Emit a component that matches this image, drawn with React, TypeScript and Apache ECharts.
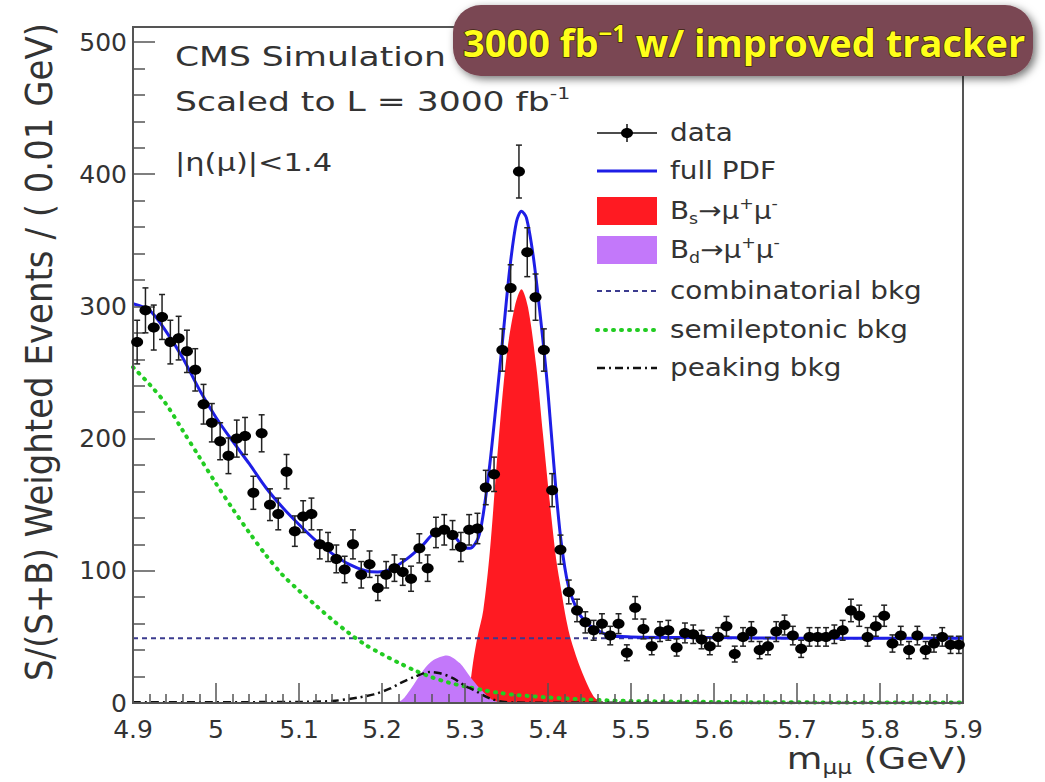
import React, { useEffect, useRef } from "react";
import * as echarts from "echarts";

// Binning of the data histogram (GeV)
const BIN_START = 4.9;
const BIN_WIDTH = 0.01;

// Weighted events per bin (bins 4.90-4.91 ... 5.89-5.90)
const dataCounts = [
  273, 297, 284, 292, 273, 276, 266, 252, 226, 212,
  198, 187, 200, 202, 159, 204, 150, 143, 175, 130,
  141, 143, 120, 118, 109, 101, 120, 97, 105, 87,
  97, 102, 99, 94, 117, 102, 129, 131, 127, 118,
  131, 132, 163, 173, 267, 314, 402, 341, 307, 267,
  161, 116, 84, 70, 61, 55, 60, 51, 60, 38,
  72, 56, 43, 54, 55, 42, 53, 52, 48, 43,
  50, 58, 37, 50, 54, 40, 43, 54, 59, 51,
  41, 50, 50, 50, 52, 55, 70, 66, 50, 58,
  66, 45, 51, 40, 51, 40, 45, 50, 44, 44,
];

const dataErrors = [
  16.5, 17, 17, 17, 16.5, 16.5, 16, 16, 15, 14.5,
  14, 13.5, 14, 14, 12.5, 14, 12, 12, 13, 11.5,
  12, 12, 11, 11, 10.5, 10, 11, 10, 10, 9.5,
  10, 10, 10, 9.5, 11, 10, 11.5, 11.5, 11, 11,
  11.5, 11.5, 13, 13, 16, 17.5, 20, 18.5, 17.5, 16,
  12.5, 11, 9, 8.5, 8, 7.5, 7.5, 7, 7.5, 6,
  8.5, 7.5, 6.5, 7.5, 7.5, 6.5, 7.5, 7, 7, 6.5,
  7, 7.5, 6, 7, 7.5, 6.5, 6.5, 7.5, 7.5, 7,
  6.5, 7, 7, 7, 7, 7.5, 8.5, 8, 7, 7.5,
  8, 6.5, 7, 6.5, 7, 6.5, 6.5, 7, 6.5, 6.5,
];

// Fit components as [mass, value]
const fullPdf = [
  [4.9, 302], [4.92, 297], [4.94, 281], [4.96, 261], [4.98, 237], [5.0, 216],
  [5.02, 198], [5.04, 181], [5.06, 163], [5.08, 148], [5.1, 135], [5.12, 123],
  [5.14, 113], [5.16, 105], [5.18, 100], [5.195, 99], [5.21, 101], [5.23, 109],
  [5.25, 120], [5.26, 127], [5.272, 131], [5.286, 127], [5.298, 118], [5.306, 117],
  [5.316, 125], [5.322, 143], [5.33, 181], [5.338, 229], [5.346, 279], [5.354, 329],
  [5.362, 364], [5.368, 372], [5.374, 367], [5.382, 339], [5.39, 297], [5.398, 249],
  [5.404, 204], [5.41, 158], [5.416, 121], [5.424, 90], [5.434, 72], [5.444, 62],
  [5.454, 57], [5.474, 51], [5.5, 50], [5.6, 49.5], [5.7, 49], [5.8, 49], [5.9, 49],
];

const bsSignal = [
  [5.29, 0], [5.3, 1], [5.305, 10], [5.31, 32], [5.315, 50], [5.322, 70],
  [5.33, 115], [5.34, 195], [5.35, 262], [5.36, 300], [5.368, 313], [5.376, 299],
  [5.386, 254], [5.394, 203], [5.402, 153], [5.41, 108], [5.416, 85], [5.422, 63],
  [5.428, 47], [5.44, 25], [5.455, 5], [5.465, 1], [5.475, 0],
];

const bdSignal = [
  [5.2, 0], [5.222, 1.5], [5.234, 10], [5.25, 25], [5.262, 32.5], [5.278, 36],
  [5.294, 30], [5.306, 20], [5.318, 11], [5.334, 2], [5.35, 0],
];

const combinatorialBkg = [
  [4.9, 49], [5.9, 49],
];

const semileptonicBkg = [
  [4.9, 254], [4.92, 241], [4.94, 226], [4.96, 206], [4.98, 186], [5.0, 166],
  [5.02, 147], [5.04, 129], [5.06, 112], [5.08, 97], [5.1, 85], [5.12, 74],
  [5.14, 63], [5.16, 53], [5.18, 44], [5.2, 37], [5.22, 30.5], [5.24, 24.5],
  [5.26, 19.5], [5.28, 15.5], [5.3, 12.5], [5.32, 10], [5.34, 7.8], [5.36, 6.2],
  [5.4, 4.2], [5.45, 2.5], [5.5, 1.5], [5.6, 0.8], [5.7, 0.5], [5.9, 0.3],
];

const peakingBkg = [
  [4.9, 0.5], [5.1, 0.8], [5.14, 1.5], [5.17, 4], [5.19, 6.5], [5.21, 11],
  [5.222, 15], [5.24, 20], [5.258, 23.5], [5.27, 22.5], [5.286, 18.6], [5.3, 13],
  [5.31, 10], [5.33, 3.5], [5.345, 1], [5.36, 0.3], [5.9, 0],
];

const X_MIN = 4.9;
const X_MAX = 5.9;
const X_STEP = 0.1;
const Y_MIN = 0;
const Y_MAX = 500;
const Y_STEP = 100;

const legendLabels = [
  "data",
  "full PDF",
  "Bs→μ+μ-",
  "Bd→μ+μ-",
  "combinatorial bkg",
  "semileptonic bkg",
  "peaking bkg",
];

const FONT = "DejaVu Sans";
const TXT = "#333";
const AX = "#555";
const BLUE = "#1e1ee6";
const RED = "#ff1a22";
const PURPLE = "#c378fa";
const GREEN = "#22cc22";
const NAVY = "#3b3b8f";

export default function App() {
  const ref = useRef<HTMLDivElement>(null);

  useEffect(() => {
    document.body.style.margin = "0";
    const chart = echarts.init(ref.current as HTMLDivElement, null, { renderer: "svg" });

    const points = dataCounts.map((v, i) => [
      +(BIN_START + BIN_WIDTH * (i + 0.5)).toFixed(3),
      v,
      dataErrors[i],
    ]);

    const legX = 597;
    const legW = 60;
    const legTextX = 670;
    const rowY = [133, 171, 211, 250, 291, 330, 368];
    const legTextStyle = { fontFamily: FONT, fontSize: 24, fill: TXT };
    const legText = (i: number, extra: any = {}) => ({
      type: "text",
      x: legTextX,
      y: rowY[i],
      scaleX: 1.16,
      style: {
        text: legendLabels[i],
        x: 0,
        y: 0,
        align: "left",
        verticalAlign: "middle",
        ...legTextStyle,
        ...extra,
      },
      z: 20,
    });
    const richDecay = (sub: string) => ({
      text: `{t|B}{sub|${sub}}{t|→μ}{sup|+}{t|μ}{sup|-}`,
      rich: {
        t: { fontFamily: FONT, fontSize: 24, fill: TXT, lineHeight: 30 },
        sub: { fontFamily: FONT, fontSize: 15, fill: TXT, lineHeight: 14, verticalAlign: "bottom" },
        sup: { fontFamily: FONT, fontSize: 15, fill: TXT, lineHeight: 16, verticalAlign: "top" },
      },
    });

    const graphic: any[] = [
      // plot frame
      {
        type: "rect",
        shape: { x: 133, y: 27, width: 830, height: 676 },
        style: { fill: "none", stroke: AX, lineWidth: 2 },
        z: 1,
        silent: true,
      },
      // annotations
      {
        type: "text",
        x: 175,
        y: 56,
        scaleX: 1.28,
        style: { text: "CMS Simulation", x: 0, y: 0, align: "left", verticalAlign: "middle", fontFamily: FONT, fontSize: 27, fill: TXT },
        z: 20,
      },
      {
        type: "text",
        x: 175,
        y: 101,
        scaleX: 1.28,
        style: {
          text: "{t|Scaled to L = 3000 fb}{s|-1}",
          x: 0,
          y: 0,
          align: "left",
          verticalAlign: "middle",
          rich: {
            t: { fontFamily: FONT, fontSize: 27, fill: TXT, lineHeight: 32 },
            s: { fontFamily: FONT, fontSize: 16, fill: TXT, lineHeight: 16, verticalAlign: "top" },
          },
        },
        z: 20,
      },
      {
        type: "text",
        x: 175,
        y: 162,
        scaleX: 1.22,
        style: { text: "|η(μ)|<1.4", x: 0, y: 0, align: "left", verticalAlign: "middle", fontFamily: FONT, fontSize: 25, fill: TXT },
        z: 20,
      },
      // legend symbols
      { type: "line", shape: { x1: legX, y1: rowY[0], x2: legX + legW, y2: rowY[0] }, style: { stroke: "#111", lineWidth: 1.5 }, z: 20 },
      { type: "line", shape: { x1: legX + legW / 2, y1: rowY[0] - 9, x2: legX + legW / 2, y2: rowY[0] + 9 }, style: { stroke: "#111", lineWidth: 1.5 }, z: 20 },
      { type: "ellipse", shape: { cx: legX + legW / 2, cy: rowY[0], rx: 6, ry: 5 }, style: { fill: "#000" }, z: 21 },
      { type: "line", shape: { x1: legX, y1: rowY[1], x2: legX + legW, y2: rowY[1] }, style: { stroke: BLUE, lineWidth: 3 }, z: 20 },
      { type: "rect", shape: { x: legX, y: rowY[2] - 14, width: legW, height: 28 }, style: { fill: RED }, z: 20 },
      { type: "rect", shape: { x: legX, y: rowY[3] - 14, width: legW, height: 28 }, style: { fill: PURPLE }, z: 20 },
      { type: "line", shape: { x1: legX, y1: rowY[4], x2: legX + legW, y2: rowY[4] }, style: { stroke: NAVY, lineWidth: 2, lineDash: [5, 4] }, z: 20 },
      { type: "line", shape: { x1: legX, y1: rowY[5], x2: legX + legW, y2: rowY[5] }, style: { stroke: GREEN, lineWidth: 4, lineDash: [1, 7], lineCap: "round" }, z: 20 },
      { type: "line", shape: { x1: legX, y1: rowY[6], x2: legX + legW, y2: rowY[6] }, style: { stroke: "#111", lineWidth: 2.5, lineDash: [8, 4, 2, 4] }, z: 20 },
      // legend texts
      legText(0),
      legText(1),
      {
        type: "text",
        x: legTextX,
        y: rowY[2],
        scaleX: 1.16,
        style: { ...richDecay("s"), x: 0, y: 0, align: "left", verticalAlign: "middle" },
        z: 20,
      },
      {
        type: "text",
        x: legTextX,
        y: rowY[3],
        scaleX: 1.16,
        style: { ...richDecay("d"), x: 0, y: 0, align: "left", verticalAlign: "middle" },
        z: 20,
      },
      legText(4),
      legText(5),
      legText(6),
      // axis titles
      {
        type: "text",
        x: 39,
        y: 352,
        rotation: Math.PI / 2,
        scaleY: 1.1,
        style: {
          text: "S/(S+B) Weighted Events / ( 0.01 GeV)",
          x: 0,
          y: 0,
          align: "center",
          verticalAlign: "middle",
          fontFamily: FONT,
          fontSize: 34,
          fill: TXT,
        },
        z: 20,
      },
      {
        type: "text",
        x: 968,
        y: 759,
        scaleX: 1.22,
        style: {
          text: "{t|m}{sub|μμ}{t| (GeV)}",
          x: 0,
          y: 0,
          align: "right",
          verticalAlign: "middle",
          rich: {
            t: { fontFamily: FONT, fontSize: 30, fill: TXT, lineHeight: 36 },
            sub: { fontFamily: FONT, fontSize: 19, fill: TXT, lineHeight: 18, verticalAlign: "bottom" },
          },
        },
        z: 20,
      },
      // badge
      {
        type: "rect",
        shape: { x: 453, y: 5, width: 580, height: 71, r: 28 },
        style: {
          fill: "#7a4652",
          shadowBlur: 8,
          shadowColor: "rgba(0,0,0,0.55)",
          shadowOffsetX: 3,
          shadowOffsetY: 3,
        },
        z: 30,
      },
      {
        type: "text",
        x: 463,
        y: 42,
        style: {
          text: "{a|3000 fb}{s|−1}{a| w/ improved tracker}",
          x: 0,
          y: 0,
          align: "left",
          verticalAlign: "middle",
          stroke: "rgba(50,30,0,0.85)",
          lineWidth: 1.5,
          rich: {
            a: { fontFamily: "Open Sans", fontWeight: "bold", fontSize: 38, fill: "#ffff1a", lineHeight: 44, stroke: "rgba(50,30,0,0.85)", lineWidth: 1.5 },
            s: { fontFamily: "Open Sans", fontWeight: "bold", fontSize: 24, fill: "#ffff1a", lineHeight: 26, verticalAlign: "top", stroke: "rgba(50,30,0,0.85)", lineWidth: 1.5 },
          },
        },
        z: 31,
      },
    ];

    const axisCommon = {
      type: "value",
      z: 5,
      axisLine: { show: true, onZero: false, lineStyle: { color: AX, width: 2 } },
      splitLine: { show: false },
      minorSplitLine: { show: false },
    };

    const option: any = {
      animation: false,
      backgroundColor: "#fff",
      grid: { left: 133, right: 82, top: 42, bottom: 79, show: false },
      xAxis: {
        ...axisCommon,
        min: X_MIN,
        max: X_MAX,
        interval: X_STEP,
        axisTick: { show: true, inside: true, length: 20, lineStyle: { color: AX, width: 1.5 } },
        minorTick: { show: true, splitNumber: 5, length: 9, lineStyle: { color: AX, width: 1.5 } },
        axisLabel: { color: TXT, fontSize: 25, fontFamily: FONT, margin: 14 },
      },
      yAxis: {
        ...axisCommon,
        min: Y_MIN,
        max: Y_MAX,
        interval: Y_STEP,
        axisTick: { show: true, inside: true, length: 22, lineStyle: { color: AX, width: 1.5 } },
        minorTick: { show: true, splitNumber: 5, length: 12, lineStyle: { color: AX, width: 1.5 } },
        axisLabel: { color: TXT, fontSize: 25, fontFamily: FONT, margin: 6 },
      },
      graphic,
      series: [
        {
          name: "Bs→μ+μ-",
          type: "line",
          data: bsSignal,
          smooth: 0.3,
          symbol: "none",
          lineStyle: { width: 0 },
          areaStyle: { color: RED, opacity: 1 },
          z: 2,
        },
        {
          name: "Bd→μ+μ-",
          type: "line",
          data: bdSignal,
          smooth: 0.3,
          symbol: "none",
          lineStyle: { width: 0 },
          areaStyle: { color: PURPLE, opacity: 1 },
          z: 2,
        },
        {
          name: "combinatorial bkg",
          type: "line",
          data: combinatorialBkg,
          symbol: "none",
          lineStyle: { color: NAVY, width: 2, type: [5, 4] },
          z: 3,
        },
        {
          name: "semileptonic bkg",
          type: "line",
          data: semileptonicBkg,
          smooth: 0.3,
          symbol: "none",
          lineStyle: { color: GREEN, width: 4, type: [1, 7], cap: "round" },
          z: 3,
        },
        {
          name: "peaking bkg",
          type: "line",
          data: peakingBkg,
          smooth: 0.3,
          symbol: "none",
          lineStyle: { color: "#111", width: 2.5, type: [8, 4, 2, 4] },
          z: 3,
        },
        {
          name: "full PDF",
          type: "line",
          data: fullPdf,
          smooth: 0.3,
          symbol: "none",
          lineStyle: { color: BLUE, width: 3 },
          z: 4,
        },
        {
          name: "data",
          type: "custom",
          data: points,
          encode: { x: 0, y: 1 },
          clip: false,
          z: 6,
          renderItem: (params: any, api: any) => {
            const x = api.value(0);
            const y = api.value(1);
            const e = api.value(2);
            const c = api.coord([x, y]);
            const t = api.coord([x, y + e]);
            const b = api.coord([x, y - e]);
            const st = { stroke: "#222", lineWidth: 1.5 };
            return {
              type: "group",
              children: [
                { type: "line", shape: { x1: c[0], y1: t[1], x2: c[0], y2: b[1] }, style: st },
                { type: "line", shape: { x1: c[0] - 3, y1: t[1], x2: c[0] + 3, y2: t[1] }, style: st },
                { type: "line", shape: { x1: c[0] - 3, y1: b[1], x2: c[0] + 3, y2: b[1] }, style: st },
                { type: "ellipse", shape: { cx: c[0], cy: c[1], rx: 6, ry: 5 }, style: { fill: "#000" } },
              ],
            };
          },
        },
      ],
    };

    chart.setOption(option);
    return () => chart.dispose();
  }, []);

  return (
    <div
      ref={ref}
      style={{ position: "absolute", left: 0, top: 0, width: 1045, height: 782 }}
    />
  );
}
